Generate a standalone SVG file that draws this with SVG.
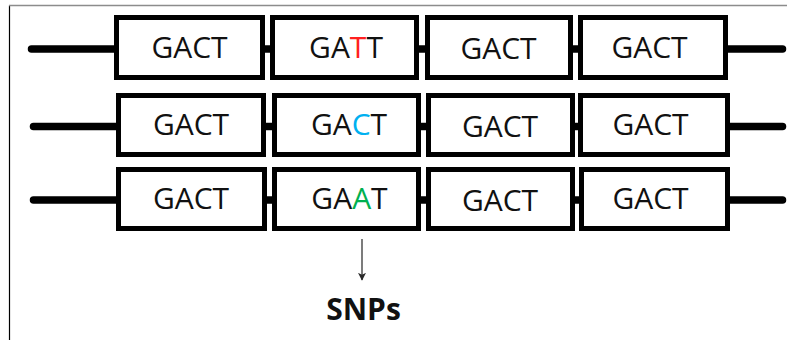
<svg xmlns="http://www.w3.org/2000/svg" width="787" height="340" viewBox="0 0 787 340">
<style>
.frame-top{fill:none;stroke:#8c8c8c;stroke-width:1.5}
.frame-left{fill:none;stroke:#000;stroke-width:1.2}
.link{stroke:#000;stroke-width:7.5;stroke-linecap:round;fill:none}
.link-in{stroke:#000;stroke-width:7.5;stroke-linecap:butt;fill:none}
.box{fill:#fff;stroke:#000;stroke-width:5}
.seq{font-family:"Open Sans","Liberation Sans",sans-serif;font-size:30px;fill:#111;text-anchor:middle}
.red{fill:#ff2020}
.blue{fill:#00b0f0}
.green{fill:#00b050}
.snp{font-family:"Open Sans","Liberation Sans",sans-serif;font-size:30px;font-weight:bold;fill:#111;text-anchor:middle}
.arrow{stroke:#6e6e6e;stroke-width:1.8;fill:none}
</style>
<defs>
<marker id="ah" viewBox="0 0 10 10" refX="9" refY="5" markerWidth="8" markerHeight="9" markerUnits="userSpaceOnUse" orient="auto">
<path d="M0,0 L10,5 L0,10 L2.5,5 Z" fill="#2a2a2a"/>
</marker>
</defs>
<rect width="787" height="340" fill="#fff"/>
<path class="frame-left" d="M9.5,340 V5.5"/>
<path class="frame-top" d="M9,5.5 H787"/>
<g id="connectors">
<path class="link" d="M31.5,49 H114"/>
<path class="link-in" d="M263,49 H273"/>
<path class="link-in" d="M417,49 H428"/>
<path class="link-in" d="M571,49 H581"/>
<path class="link" d="M726,49 H782.5"/>
<path class="link" d="M33.5,126.5 H118"/>
<path class="link-in" d="M264,126.5 H275"/>
<path class="link-in" d="M419,126.5 H429"/>
<path class="link-in" d="M573,126.5 H581"/>
<path class="link" d="M728,126.5 H782.5"/>
<path class="link" d="M33.5,200 H118"/>
<path class="link-in" d="M265,200 H275"/>
<path class="link-in" d="M419,200 H429"/>
<path class="link-in" d="M573,200 H582"/>
<path class="link" d="M728,200 H782.5"/>
<path class="arrow" d="M362,239 V280" marker-end="url(#ah)"/>
</g>
<g id="r1c1"><rect class="box" x="116.5" y="17.5" width="146" height="60"/><text class="seq" x="189.5" y="58">GACT</text></g>
<g id="r1c2"><rect class="box" x="272.5" y="17.5" width="144" height="60"/><text class="seq" x="346" y="58">GA<tspan class="red">T</tspan>T</text></g>
<g id="r1c3"><rect class="box" x="427.5" y="17.5" width="143" height="60"/><text class="seq" x="498.5" y="59">GACT</text></g>
<g id="r1c4"><rect class="box" x="580.5" y="17.5" width="145" height="60"/><text class="seq" x="649.5" y="57.5">GACT</text></g>
<g id="r2c1"><rect class="box" x="118.5" y="95.5" width="145" height="59"/><text class="seq" x="191" y="135">GACT</text></g>
<g id="r2c2"><rect class="box" x="274.5" y="95.5" width="144" height="59"/><text class="seq" x="349" y="135">GA<tspan class="blue">C</tspan>T</text></g>
<g id="r2c3"><rect class="box" x="428.5" y="95.5" width="144" height="59"/><text class="seq" x="500" y="136.5">GACT</text></g>
<g id="r2c4"><rect class="box" x="580.5" y="95.5" width="147" height="59"/><text class="seq" x="650.5" y="135">GACT</text></g>
<g id="r3c1"><rect class="box" x="118.5" y="169.5" width="146" height="59"/><text class="seq" x="191" y="209">GACT</text></g>
<g id="r3c2"><rect class="box" x="274.5" y="169.5" width="144" height="59"/><text class="seq" x="349.5" y="209">GA<tspan class="green">A</tspan>T</text></g>
<g id="r3c3"><rect class="box" x="428.5" y="169.5" width="144" height="59"/><text class="seq" x="500" y="211">GACT</text></g>
<g id="r3c4"><rect class="box" x="581.5" y="169.5" width="146" height="59"/><text class="seq" x="650.5" y="209">GACT</text></g>
<g id="snps"><text class="snp" x="363.5" y="320">SNPs</text></g>
</svg>
